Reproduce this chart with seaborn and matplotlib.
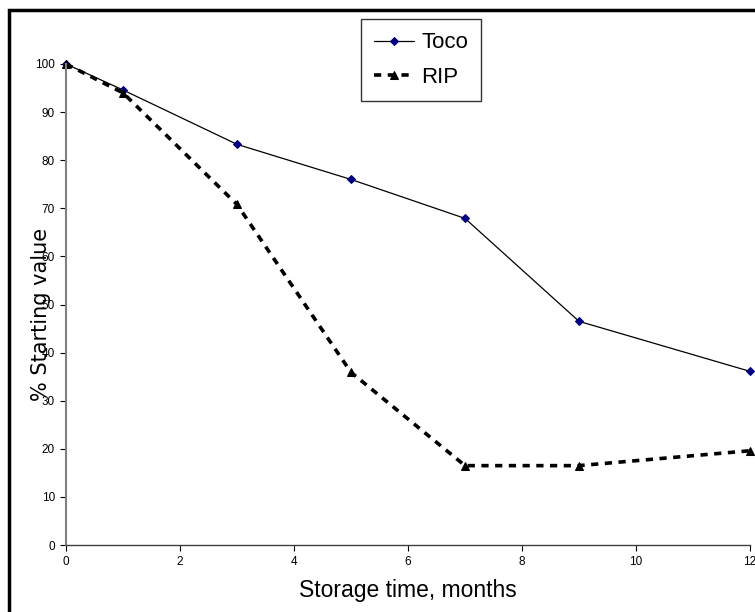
import matplotlib
matplotlib.use("Agg")
import matplotlib.pyplot as plt
import matplotlib.patches as mpatches
import seaborn as sns
import pandas as pd

months = [0, 1, 3, 5, 7, 9, 12]
toco = [100, 94.6, 83.3, 76.0, 67.9, 46.5, 36.1]
rip = [100, 94.0, 70.8, 35.9, 16.5, 16.5, 19.6]
x_ticks = [0, 2, 4, 6, 8, 10, 12]
y_ticks = [0, 10, 20, 30, 40, 50, 60, 70, 80, 90, 100]

sns.set_theme(style="white")
narrow = ["Liberation Sans Narrow", "Liberation Sans", "DejaVu Sans"]
plt.rcParams["font.family"] = narrow
plt.rcParams["text.color"] = "black"
plt.rcParams["axes.labelcolor"] = "black"
plt.rcParams["xtick.color"] = "black"
plt.rcParams["ytick.color"] = "black"

fig = plt.figure(figsize=(7.55, 6.12), dpi=100)
ax = fig.add_axes([66 / 755, 1 - 545 / 612, (750 - 66) / 755, (545 - 64) / 612])

df_t = pd.DataFrame({"month": months, "value": toco})
df_r = pd.DataFrame({"month": months, "value": rip})

sns.lineplot(data=df_t, x="month", y="value", ax=ax, color="black", linewidth=0.9,
             marker="D", markersize=4.5, markerfacecolor="#000080", markeredgecolor="#000080",
             label="Toco", clip_on=False)
sns.lineplot(data=df_r, x="month", y="value", ax=ax, color="black", linewidth=2.6,
             marker="^", markersize=6, markerfacecolor="black", markeredgecolor="black",
             label="RIP", clip_on=False, dashes=False)
ax.lines[-1].set_dashes([2.0, 1.8])

ax.set_xlim(0, 12)
ax.set_ylim(0, 100)
ax.set_xticks(x_ticks)
ax.set_yticks(y_ticks)
ax.tick_params(axis="both", which="both", direction="out", length=4, width=0.8,
               colors="black", labelsize=8.5, bottom=True, left=True, pad=4)
for s in ["top", "right"]:
    ax.spines[s].set_visible(False)
ax.spines["left"].set_color("#808080")
ax.spines["left"].set_linewidth(1.5)
ax.spines["bottom"].set_color("#404040")
ax.spines["bottom"].set_linewidth(1.0)

ax.set_xlabel("Storage time, months", fontsize=16.5, labelpad=8, color="black")
ax.set_ylabel("% Starting value", fontsize=15, family="DejaVu Sans", color="black")
ax.yaxis.set_label_coords((51 - 66) / 684, 1 - (314 - 64) / 481)

leg = ax.legend(loc="upper left", bbox_to_anchor=(361 / 755, 1 - 19 / 612),
                bbox_transform=fig.transFigure, fontsize=16, frameon=True, fancybox=False,
                handlelength=1.8, handletextpad=0.3, borderpad=0.6, labelspacing=0.6,
                borderaxespad=0)
leg.get_frame().set_edgecolor("black")
leg.get_frame().set_linewidth(1.0)
for t in leg.get_texts():
    t.set_color("black")

fig.patches.append(mpatches.Rectangle((9 / 755, -0.1), 1.2, 1.1 - 10 / 612,
                                      transform=fig.transFigure, fill=False,
                                      edgecolor="black", linewidth=2.5))

fig.savefig("out.png", dpi=100)
